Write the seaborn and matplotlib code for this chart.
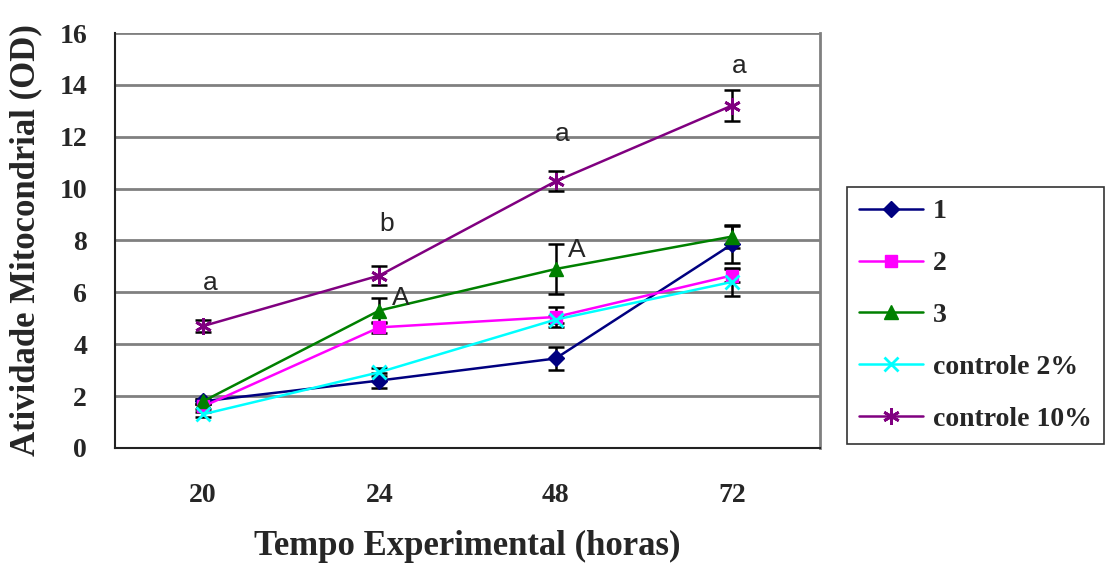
import numpy as np
import pandas as pd
import matplotlib
matplotlib.use("Agg")
import matplotlib.pyplot as plt
import seaborn as sns

categories = ["20", "24", "48", "72"]
series_names = ["1", "2", "3", "controle 2%", "controle 10%"]
s1 = [1.8, 2.6, 3.45, 7.85]
s2 = [1.6, 4.65, 5.05, 6.65]
s3 = [1.8, 5.3, 6.9, 8.15]
c2 = [1.3, 2.92, 4.95, 6.4]
c10 = [4.7, 6.65, 10.28, 13.2]
e1 = [0.1, 0.3, 0.45, 0.7]
e2 = [0.1, 0.2, 0.4, 0.25]
e3 = [0.1, 0.5, 0.95, 0.45]
ec2 = [0.1, 0.15, 0.15, 0.55]
ec10 = [0.22, 0.36, 0.38, 0.6]
letters_lower = ["a", "b", "a", "a"]
letters_lower_y = [6.35, 8.65, 12.1, 14.73]
letters_upper = ["", "A", "A", ""]
letters_upper_y = [0, 5.8, 7.65, 0]

values = [s1, s2, s3, c2, c10]
errors = [e1, e2, e3, ec2, ec10]
colors = ["#000080", "#FF00FF", "#008000", "#00FFFF", "#800080"]
markers = ["D", "s", "^", "x", (6, 2, 0)]
msizes = [8, 9, 10, 10, 12]

rows = []
for name, vals, errs in zip(series_names, values, errors):
    for i, (v, e) in enumerate(zip(vals, errs)):
        rows.append({"serie": name, "pos": i, "val": v, "err": e})
df = pd.DataFrame(rows)

sns.set_style("white")
fig = plt.figure(figsize=(11.13, 5.69), dpi=100)
ax = fig.add_axes([0.1033, 0.2127, 0.6334, 0.7293])

for name, col, mk, ms in zip(series_names, colors, markers, msizes):
    d = df[df["serie"] == name]
    ax.errorbar(d["pos"], d["val"], yerr=d["err"], fmt="none", ecolor="black",
                elinewidth=1.8, capsize=6, capthick=1.8, zorder=2)
    thin = mk == "x" or isinstance(mk, tuple)
    sns.lineplot(data=d, x="pos", y="val", ax=ax, color=col, marker=mk,
                 markersize=ms, markeredgecolor=col, markeredgewidth=2 if thin else 1,
                 linewidth=1.8, label=name, zorder=3)

for i, (t, y) in enumerate(zip(letters_lower, letters_lower_y)):
    ax.text(i + 0.04, y, t, ha="center", va="center", fontsize=19, family="Liberation Sans")
for i, (t, y) in enumerate(zip(letters_upper, letters_upper_y)):
    if t:
        ax.text(i + 0.12, y, t, ha="center", va="center", fontsize=19, family="Liberation Sans")

ax.set_xlim(-0.5, 3.5)
ax.set_ylim(0, 16)
ax.set_yticks(np.arange(0, 17, 2))
ax.set_xticks(range(len(categories)))
ax.set_xticklabels(categories)
ax.yaxis.grid(True, color="#808080", linewidth=2)
ax.set_axisbelow(True)
ax.tick_params(axis="x", length=6, width=1.2, color="#333333", direction="out", pad=19)
ax.tick_params(axis="y", length=8, width=1.2, color="#333333", direction="out", pad=12)
for lab in ax.get_xticklabels() + ax.get_yticklabels():
    lab.set_fontfamily("Liberation Serif")
    lab.set_fontweight("bold")
    lab.set_fontsize(20)
for side in ["left", "bottom"]:
    ax.spines[side].set_color("#222222")
    ax.spines[side].set_linewidth(1.5)
ax.spines["right"].set_color("#808080")
ax.spines["right"].set_linewidth(2)
ax.spines["top"].set_visible(False)

ax.set_xlabel("Tempo Experimental (horas)", fontsize=25, fontweight="bold",
              family="Liberation Serif", labelpad=16)
ax.set_ylabel("Atividade Mitocondrial (OD)", fontsize=25, fontweight="bold",
              family="Liberation Serif", labelpad=12)

leg = ax.legend(loc="upper left", bbox_to_anchor=(1.038, 0.63), frameon=True,
                fancybox=False, edgecolor="black", borderpad=0.45, labelspacing=0.95,
                handlelength=2.3, handletextpad=0.35, borderaxespad=0,
                prop={"family": "Liberation Serif", "weight": "bold", "size": 20})
leg.get_frame().set_linewidth(1.2)
leg.get_frame().set_facecolor("white")

fig.savefig("out.png", dpi=100)
